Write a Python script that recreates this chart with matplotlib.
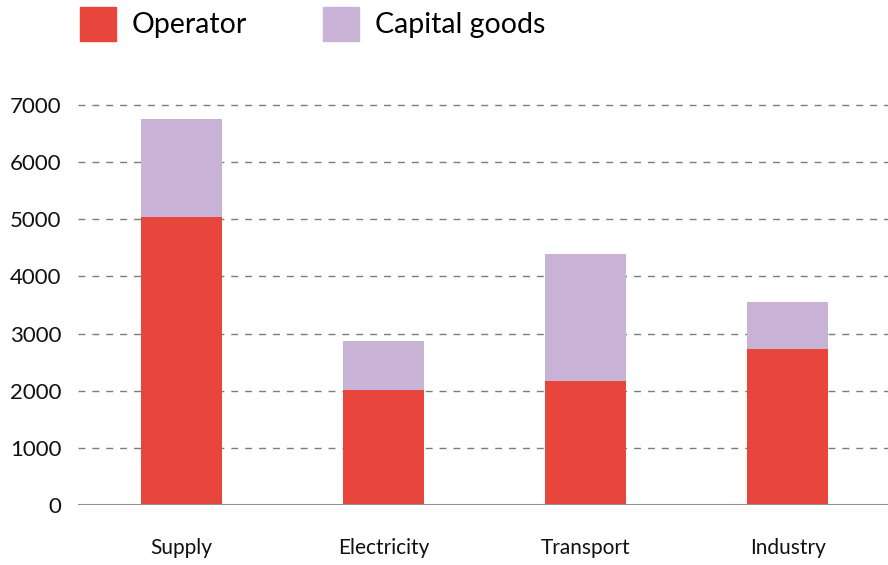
import numpy as np
import matplotlib
matplotlib.use('Agg')
import matplotlib.pyplot as plt
from matplotlib.patches import Patch

plt.rcParams['font.family'] = ['Lato', 'DejaVu Sans']

#==============================================================================
# data
#==============================================================================
categories = ['Supply', 'Electricity', 'Transport', 'Industry']
operator = [5045, 2010, 2165, 2725]
capital_goods = [1710, 865, 2220, 820]
yticks = [0, 1000, 2000, 3000, 4000, 5000, 6000, 7000]

red = '#e8453c'
lilac = '#c8b3d7'

#==============================================================================
# plot
#==============================================================================
W, H = 888, 565
fig = plt.figure(figsize=(W / 100, H / 100), dpi=100)
ax = fig.add_axes([78 / W, 60 / H, 810 / W, 400 / H])

x = np.arange(len(categories))
ax.bar(x, operator, width=0.4, color=red, zorder=3)
ax.bar(x, capital_goods, bottom=operator, width=0.4, color=lilac, zorder=3)

ax.set_xlim(-0.512, 3.497)
ax.set_ylim(0, 7000)
ax.set_yticks(yticks)
ax.set_yticklabels([str(v) for v in yticks])
ax.set_xticks(x)
ax.set_xticklabels(categories)

for v in yticks[1:]:
    ax.axhline(v, color='#718181', lw=1, ls=(0, (5, 5)), zorder=1, clip_on=False)
ax.axhline(0, color='#8a929c', lw=1.5, zorder=4)

for s in ax.spines.values():
    s.set_visible(False)
ax.tick_params(axis='y', length=0, pad=12, labelsize=16, colors='#111111')
ax.tick_params(axis='x', length=0, pad=24, labelsize=15, colors='#111111')

handles = [Patch(color=red, label='Operator'), Patch(color=lilac, label='Capital goods')]
fig.legend(handles=handles, loc='upper left', bbox_to_anchor=(80 / W, 1 - 7 / H),
           ncol=2, frameon=False, fontsize=20.5, handlelength=1.25, handleheight=1.45,
           handletextpad=0.55, columnspacing=2.7, borderpad=0, borderaxespad=0)

fig.savefig('out.png', dpi=100)
